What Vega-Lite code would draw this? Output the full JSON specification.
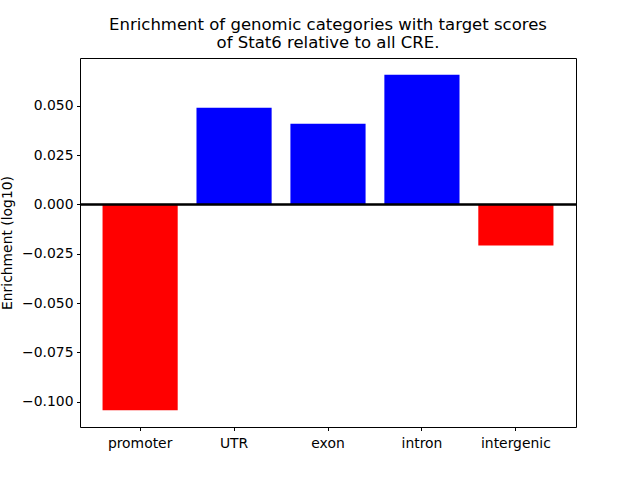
{
  "$schema": "https://vega.github.io/schema/vega-lite/v6.json",
  "autosize": {"type": "none"},
  "width": 496,
  "height": 369,
  "padding": {"left": 80, "top": 58, "right": 64, "bottom": 53},
  "background": "white",
  "config": {
    "font": "DejaVu Sans",
    "view": {"stroke": "black", "strokeWidth": 1},
    "axis": {"grid": false, "domain": false, "tickColor": "black", "tickSize": 3.5, "labelFontSize": 13.9, "labelColor": "black", "labelFont": "DejaVu Sans", "titleFont": "DejaVu Sans", "titleFontWeight": "normal", "titleFontSize": 13.9, "titleColor": "black", "labelPadding": 3.5}
  },
  "title": {
    "text": ["Enrichment of genomic categories with target scores", "of Stat6 relative to all CRE."],
    "font": "DejaVu Sans",
    "fontSize": 16.5,
    "fontWeight": "normal",
    "color": "black",
    "anchor": "middle",
    "offset": 7,
    "lineHeight": 17.5
  },
  "data": {
    "values": [
      {"category": "promoter", "value": -0.1044},
      {"category": "UTR", "value": 0.0491},
      {"category": "exon", "value": 0.041},
      {"category": "intron", "value": 0.0658},
      {"category": "intergenic", "value": -0.0208}
    ]
  },
  "layer": [
    {
      "mark": {"type": "bar"},
      "encoding": {
        "x": {
          "field": "category",
          "type": "nominal",
          "sort": null,
          "scale": {"paddingInner": 0.2, "paddingOuter": 0.24},
          "axis": {"title": null, "labelAngle": 0, "labelPadding": 5.5}
        },
        "y": {
          "field": "value",
          "type": "quantitative",
          "scale": {"domain": [-0.1129, 0.0743], "nice": false, "zero": false},
          "axis": {"title": "Enrichment (log10)", "values": [-0.1, -0.075, -0.05, -0.025, 0, 0.025, 0.05], "format": ".3f", "titlePadding": 7.5}
        },
        "color": {"condition": {"test": "datum.value < 0", "value": "#ff0000"}, "value": "#0000ff"}
      }
    },
    {
      "mark": {"type": "rule", "color": "black", "strokeWidth": 1.5},
      "encoding": {"y": {"datum": 0}}
    }
  ]
}
